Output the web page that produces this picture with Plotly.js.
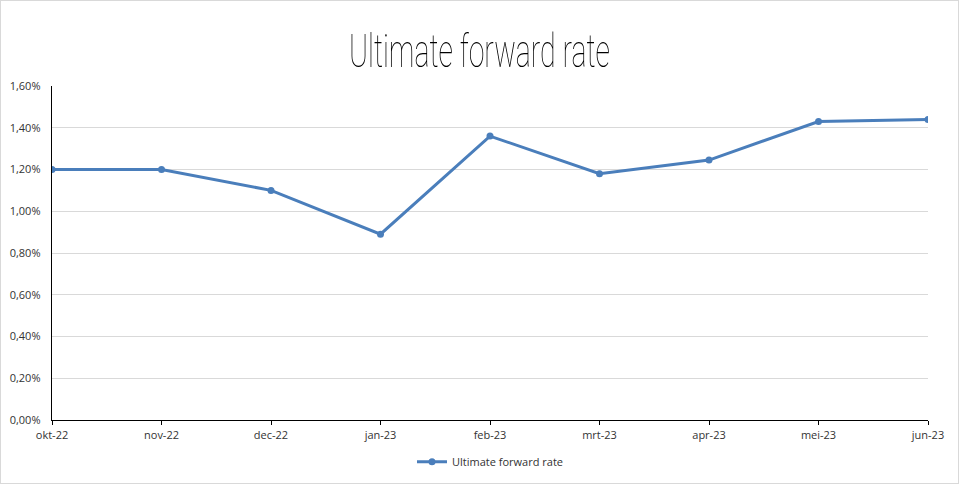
<!DOCTYPE html>
<html><head><meta charset="utf-8">
<script src="https://cdn.plot.ly/plotly-3.0.1.min.js"></script>
<style>
html,body{margin:0;padding:0;background:#fff;}
#wrap{width:959px;height:484px;box-sizing:border-box;border:1px solid #d9d9d9;}
#chart{width:957px;height:482px;}
.gtitle{filter:grayscale(1);}
</style></head>
<body><div id="wrap"><div id="chart"></div></div>
<script>
const categories = ["okt-22","nov-22","dec-22","jan-23","feb-23","mrt-23","apr-23","mei-23","jun-23"];
const ufrValues = [0.0120,0.0120,0.0110,0.0089,0.0136,0.0118,0.01245,0.0143,0.0144];
const yTickValues = [0,0.002,0.004,0.006,0.008,0.010,0.012,0.014,0.016];

const trace = {
  x: categories, y: ufrValues, type: "scatter", mode: "lines+markers",
  name: "Ultimate forward rate",
  line: {color: "#4a7ebb", width: 3},
  marker: {color: "#4a7ebb", size: 7}
};
const layout = {
  width: 957, height: 482,
  margin: {l: 51, r: 30, t: 85, b: 63, autoexpand: false},
  paper_bgcolor: "#fff", plot_bgcolor: "#fff",
  separators: ",.",
  title: {text: "Ultimate forward rate", x: 0.5, xanchor: "center", yref: "container", y: 0.929, yanchor: "top",
    font: {family: "Roboto", size: 46, color: "#000", weight: 100}},
  font: {family: "Open Sans", size: 11, color: "#333"},
  xaxis: {type: "category", range: [0, 8], showline: true, linecolor: "#000", linewidth: 1.3,
    ticks: "outside", ticklen: 4, tickcolor: "#000", showgrid: false, zeroline: false,
    tickfont: {family: "Open Sans", size: 11, color: "#333"}, fixedrange: true},
  yaxis: {range: [0, 0.016], tickvals: yTickValues, tickformat: ".2%", showline: true, linecolor: "#000",
    linewidth: 1.3, ticks: "", gridcolor: "#d9d9d9", gridwidth: 1, zeroline: false, ticklabelstandoff: 8,
    tickfont: {family: "Open Sans", size: 11, color: "#333"}, fixedrange: true},
  showlegend: true,
  legend: {orientation: "h", x: 0.5, xanchor: "center", yref: "container", y: 0.044, yanchor: "middle",
    font: {family: "Open Sans", size: 11, color: "#333"}}
};
Plotly.newPlot("chart", [trace], layout, {displayModeBar: false, staticPlot: true}).then(function(){
  const t = document.querySelector(".gtitle");
  if (t) {
    const bb = t.getBBox();
    const cx = bb.x + bb.width/2;
    t.setAttribute("transform", "translate(" + cx + ",0) scale(0.62,1) translate(" + (-cx) + ",0)");
  }
});
</script></body></html>
